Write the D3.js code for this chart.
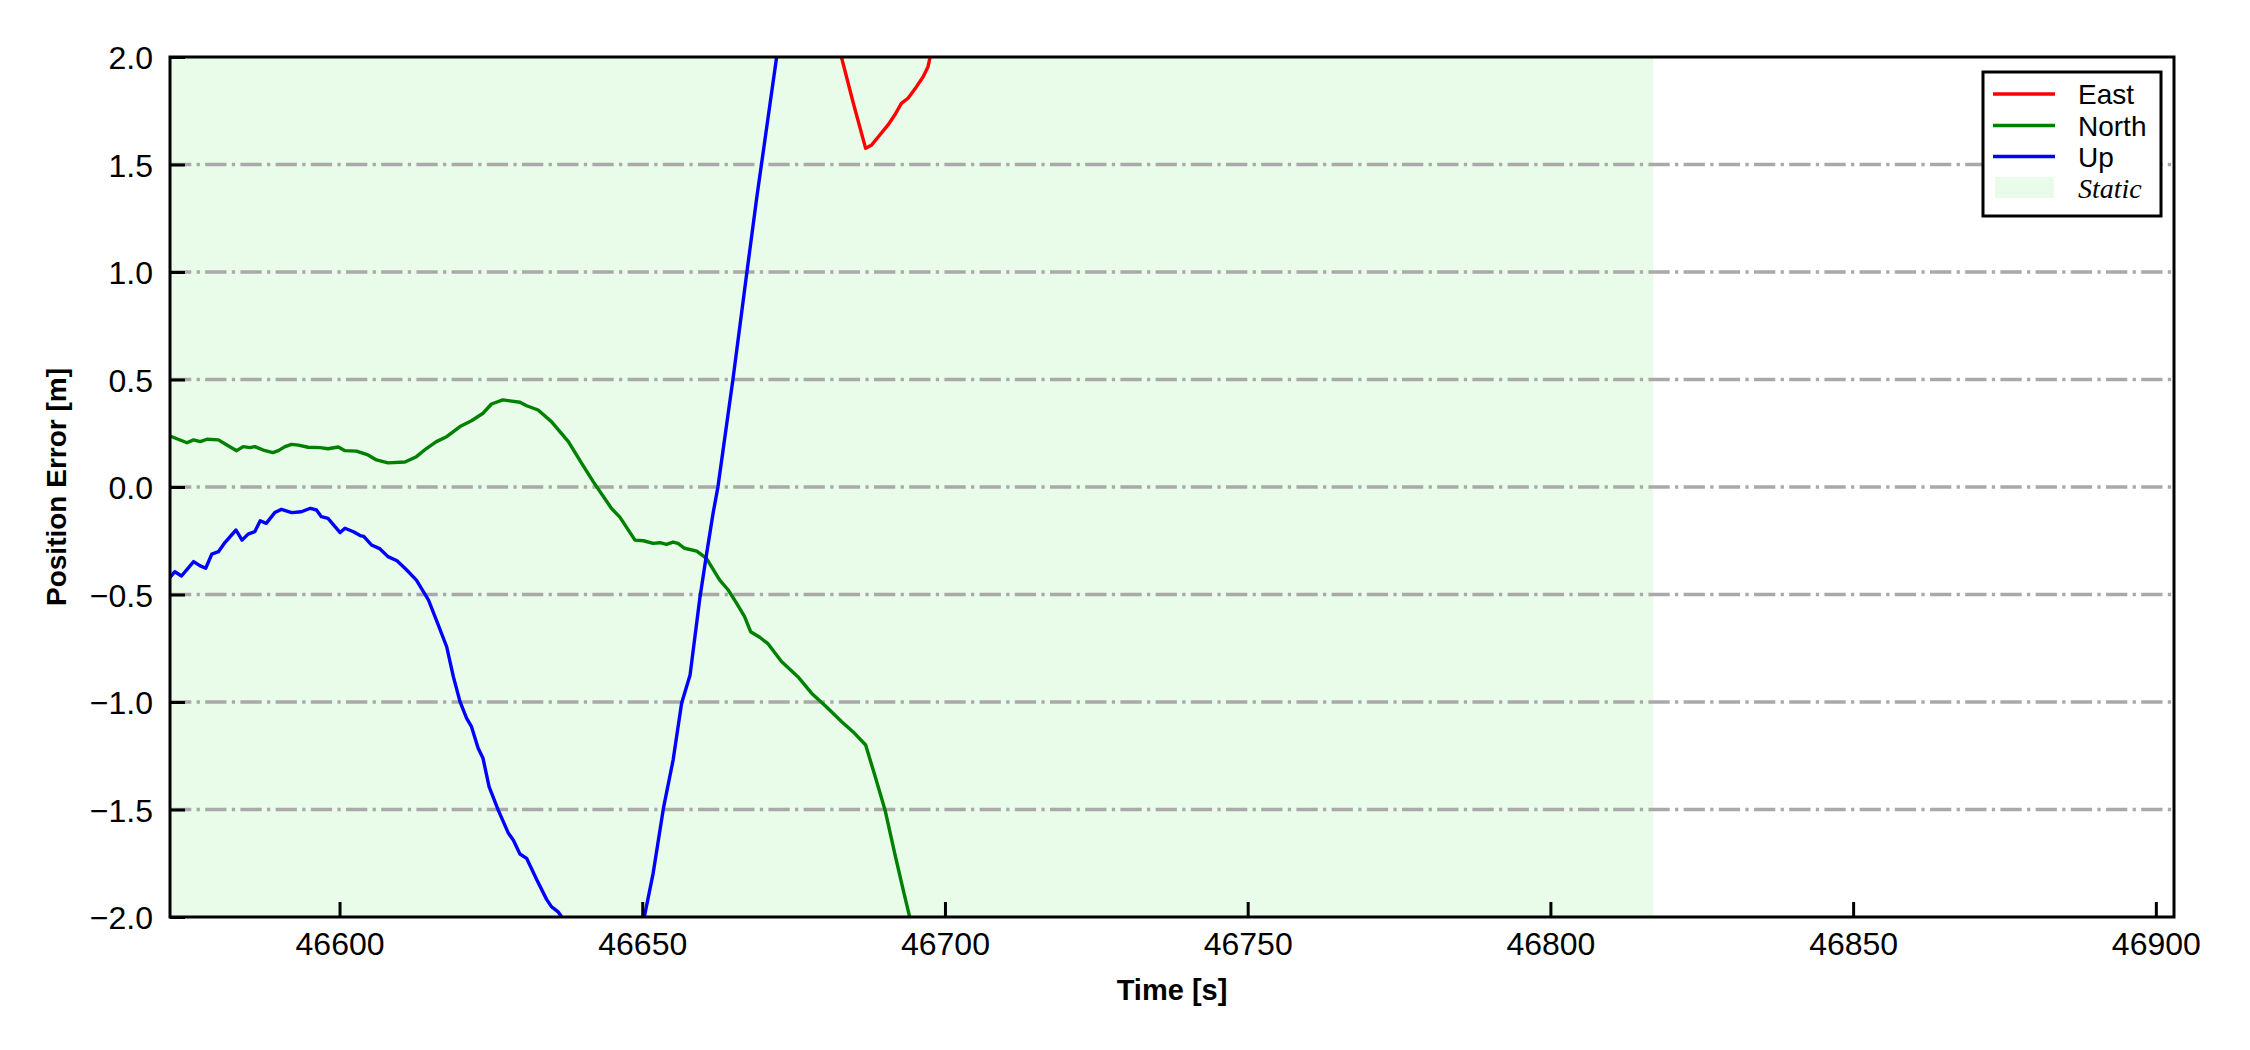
<!DOCTYPE html>
<html>
<head>
<meta charset="utf-8">
<script src="https://cdn.jsdelivr.net/npm/d3@7"></script>
<style>
  html, body { margin: 0; padding: 0; background: #ffffff; }
  svg { display: block; }
</style>
</head>
<body>
<svg id="chart" width="2250" height="1050"></svg>
<script>
// ---------------- DATA ----------------
const xTicks = [46600, 46650, 46700, 46750, 46800, 46850, 46900];
const yTicks = [-2.0, -1.5, -1.0, -0.5, 0.0, 0.5, 1.0, 1.5, 2.0];
const xDomain = [46572, 46903];
const yDomain = [-2, 2];
const staticSpan = [46572, 46817];

const seriesNames = ["East", "North", "Up"];
const seriesColors = ["#ff0000", "#008000", "#0000ff"];
const staticLabel = "Static";

const eastT = [46681, 46682.9, 46684.8, 46686.9, 46687.9, 46689, 46690.6, 46691.7, 46692.8, 46693.9, 46695.3, 46696.4, 46697.2, 46697.5, 46698.5];
const eastV = [2.2, 2.0, 1.792, 1.575, 1.591, 1.629, 1.684, 1.730, 1.784, 1.808, 1.862, 1.908, 1.955, 1.994, 2.2];

const northT = [46572, 46574.8, 46575.9, 46577, 46578.1, 46580, 46581.4, 46583, 46584.1, 46585.2, 46586, 46587.4, 46589, 46589.9, 46591, 46592.1, 46593.2, 46594.8, 46596.8, 46598.1, 46599.8, 46600.9, 46602.8, 46604.7, 46606.1, 46608, 46610.8, 46612.7, 46614.4, 46616, 46617.7, 46619.9, 46621.8, 46623.7, 46625.1, 46627, 46629.8, 46630.9, 46632.8, 46635, 46637.8, 46640, 46641.9, 46644.9, 46646.3, 46648.8, 46650.2, 46651.8, 46652.9, 46654, 46655.1, 46655.9, 46657, 46659, 46660.6, 46662.8, 46664.2, 46665.6, 46666.9, 46667.9, 46669.4, 46670.8, 46673, 46675.7, 46678, 46680.4, 46682.9, 46684.8, 46686.9, 46688.4, 46690.1, 46691.7, 46693.1, 46694.1, 46695];
const northV = [0.237, 0.206, 0.219, 0.211, 0.222, 0.219, 0.195, 0.169, 0.188, 0.183, 0.188, 0.172, 0.160, 0.169, 0.188, 0.198, 0.195, 0.185, 0.183, 0.178, 0.186, 0.169, 0.167, 0.149, 0.126, 0.112, 0.116, 0.141, 0.180, 0.211, 0.234, 0.281, 0.308, 0.343, 0.386, 0.405, 0.394, 0.378, 0.358, 0.304, 0.211, 0.110, 0.025, -0.099, -0.140, -0.247, -0.250, -0.262, -0.259, -0.267, -0.256, -0.262, -0.285, -0.298, -0.332, -0.433, -0.479, -0.541, -0.603, -0.673, -0.699, -0.730, -0.812, -0.882, -0.960, -1.022, -1.091, -1.138, -1.200, -1.340, -1.502, -1.704, -1.874, -1.991, -2.100];

const upT = [46572, 46572.8, 46573.9, 46575.9, 46577, 46577.9, 46578.9, 46580, 46581.1, 46582.9, 46583.9, 46584.9, 46586, 46586.9, 46587.9, 46589.3, 46590.4, 46592.1, 46593.7, 46595.2, 46596.2, 46597, 46598.1, 46600.1, 46600.9, 46602.3, 46603.4, 46604, 46605.3, 46606.7, 46608, 46609.5, 46611.1, 46612.7, 46614.7, 46616, 46617.7, 46618.8, 46619.9, 46621, 46621.8, 46622.9, 46623.7, 46624.7, 46626.2, 46627.9, 46628.7, 46629.8, 46630.9, 46632.6, 46634.2, 46635, 46636.1, 46636.7, 46638, 46644, 46649, 46650.4, 46651.8, 46653.5, 46655.1, 46656.5, 46657.9, 46659.5, 46660.6, 46661.7, 46662.5, 46665, 46667.3, 46668.9, 46670.3, 46672.2, 46674];
const upV = [-0.420, -0.394, -0.414, -0.347, -0.367, -0.378, -0.312, -0.301, -0.257, -0.200, -0.247, -0.219, -0.208, -0.157, -0.169, -0.119, -0.104, -0.119, -0.115, -0.099, -0.107, -0.138, -0.146, -0.212, -0.192, -0.208, -0.226, -0.230, -0.270, -0.288, -0.324, -0.343, -0.386, -0.433, -0.526, -0.619, -0.743, -0.882, -0.998, -1.076, -1.115, -1.215, -1.262, -1.394, -1.502, -1.611, -1.642, -1.707, -1.727, -1.828, -1.918, -1.952, -1.976, -2.000, -2.150, -2.400, -2.200, -1.991, -1.797, -1.494, -1.270, -1.006, -0.874, -0.520, -0.316, -0.122, 0.000, 0.505, 1.002, 1.343, 1.622, 2.000, 2.350];

const seriesT = [eastT, northT, upT];
const seriesV = [eastV, northV, upV];

// ---------------- LAYOUT ----------------
const L = 170, R = 2174, T = 57, B = 917;
const FONT = "'Liberation Sans', Arial, sans-serif";

const svg = d3.select("#chart");
const x = d3.scaleLinear().domain(xDomain).range([L, R]);
const y = d3.scaleLinear().domain(yDomain).range([B, T]);

svg.append("defs").append("clipPath").attr("id", "clip")
  .append("rect").attr("x", L).attr("y", T).attr("width", R - L).attr("height", B - T);

// static shading
svg.append("rect")
  .attr("x", x(staticSpan[0])).attr("y", T)
  .attr("width", x(staticSpan[1]) - x(staticSpan[0])).attr("height", B - T)
  .attr("fill", "#e9fce9");

// grid
svg.append("g").selectAll("line").data(yTicks.filter(v => v > yDomain[0] && v < yDomain[1]))
  .join("line")
  .attr("x1", L).attr("x2", R)
  .attr("y1", d => y(d)).attr("y2", d => y(d))
  .attr("stroke", "#a9a9a9").attr("stroke-width", 3.3)
  .attr("stroke-dasharray", "21.3,5.3,3.3,5.3");

// lines
const lineGen = d3.line().x(d => x(d[0])).y(d => y(d[1])).curve(d3.curveLinear);
const gLines = svg.append("g").attr("clip-path", "url(#clip)");
seriesNames.forEach((name, i) => {
  const pts = seriesT[i].map((t, j) => [t, seriesV[i][j]]);
  gLines.append("path").datum(pts)
    .attr("d", lineGen)
    .attr("fill", "none")
    .attr("stroke", seriesColors[i])
    .attr("stroke-width", 3.4)
    .attr("stroke-linejoin", "round");
});

// axes (ticks inward)
const xAxis = d3.axisBottom(x).tickValues(xTicks).tickFormat(d3.format("d")).tickSizeInner(-15).tickSizeOuter(0).tickPadding(15);
const yAxis = d3.axisLeft(y).tickValues(yTicks).tickFormat(d3.format(".1f")).tickSizeInner(-15).tickSizeOuter(0).tickPadding(17);

const gx = svg.append("g").attr("transform", `translate(0,${B})`).call(xAxis);
const gy = svg.append("g").attr("transform", `translate(${L},0)`).call(yAxis);
[gx, gy].forEach(g => {
  g.select(".domain").remove();
  g.selectAll(".tick line").attr("stroke", "#000").attr("stroke-width", 3);
  g.selectAll(".tick text").attr("fill", "#000").style("font-family", FONT).style("font-size", "32px");
});
gx.selectAll(".tick text").attr("dy", "0.71em");
gy.selectAll(".tick text").attr("dy", "0.36em");

// spines
svg.append("rect").attr("x", L).attr("y", T).attr("width", R - L).attr("height", B - T)
  .attr("fill", "none").attr("stroke", "#000").attr("stroke-width", 3);

// axis labels
svg.append("text").attr("x", (L + R) / 2).attr("y", 1000)
  .attr("text-anchor", "middle").style("font-family", FONT).style("font-size", "29px").style("font-weight", "bold")
  .text("Time [s]");
svg.append("text").attr("transform", `translate(66,${(T + B) / 2}) rotate(-90)`)
  .attr("text-anchor", "middle").style("font-family", FONT).style("font-size", "28px").style("font-weight", "bold")
  .text("Position Error [m]");

// legend
const lg = svg.append("g");
lg.append("rect").attr("x", 1983).attr("y", 72).attr("width", 178).attr("height", 144)
  .attr("fill", "#fff").attr("stroke", "#000").attr("stroke-width", 3);
const rowY = [94, 125.5, 156.5, 187.5];
seriesNames.forEach((name, i) => {
  lg.append("line").attr("x1", 1993).attr("x2", 2055).attr("y1", rowY[i]).attr("y2", rowY[i])
    .attr("stroke", seriesColors[i]).attr("stroke-width", 3.4);
  lg.append("text").attr("x", 2078).attr("y", rowY[i] + 10)
    .style("font-family", FONT).style("font-size", "28px").text(name);
});
lg.append("rect").attr("x", 1995).attr("y", 177).attr("width", 59).attr("height", 21).attr("fill", "#e9fce9");
lg.append("text").attr("x", 2078).attr("y", rowY[3] + 10)
  .style("font-family", "'Liberation Serif', 'Times New Roman', serif").style("font-style", "italic").style("font-size", "28px")
  .text(staticLabel);
</script>
</body>
</html>
